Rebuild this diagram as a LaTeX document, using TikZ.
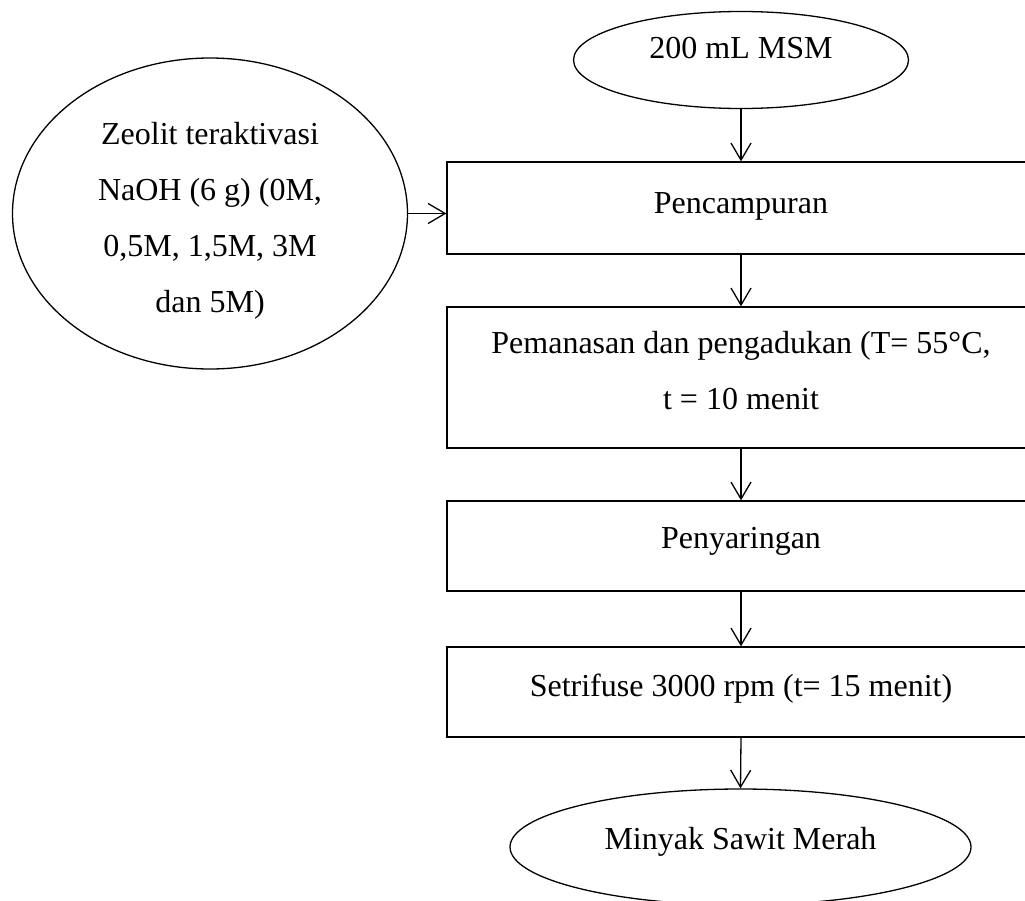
\documentclass[tikz,border=0pt]{standalone}
\usepackage{fontspec}
\setmainfont{Liberation Serif}
\usetikzlibrary{shapes.geometric,arrows.meta}
\newcommand{\lifted}[2]{\raisebox{#1}[0pt][0pt]{\begin{tabular}{@{}c@{}}#2\end{tabular}}}
\begin{document}
\begin{tikzpicture}[x=1pt,y=-1pt,
  every node/.style={font=\fontsize{32}{56}\selectfont, line width=1.3pt, inner sep=0pt},
  oval/.style={draw, ellipse},
  stepbox/.style={draw, rectangle, minimum width=588pt},
  flow/.style={draw, line width=1.3pt, -{Straight Barb[length=17pt,width=20pt,line width=1.3pt]}}]
\useasboundingbox (0,0) rectangle (1025,900);
\clip (0,0) rectangle (1025,900);
\node[oval, minimum width=335pt, minimum height=97pt] (msm) at (741,60) {\lifted{6.2pt}{200 mL MSM}};
\node[oval, minimum width=395pt, minimum height=311pt] (zeo) at (210,213.5)
  {\lifted{-9.8pt}{Zeolit teraktivasi\\NaOH (6 g) (0M,\\0,5M, 1,5M, 3M\\dan 5M)}};
\node[stepbox, minimum height=92pt] (b1) at (741,208) {\lifted{-0.8pt}{Pencampuran}};
\node[stepbox, minimum height=141pt] (b2) at (741,377.5)
  {\lifted{0.7pt}{Pemanasan dan pengadukan (T= 55°C,\\t = 10 menit}};
\node[stepbox, minimum height=90pt] (b3) at (741,546) {\lifted{2.2pt}{Penyaringan}};
\node[stepbox, minimum height=90pt] (b4) at (741,692) {\lifted{0.2pt}{Setrifuse 3000 rpm (t= 15 menit)}};
\node[oval, minimum width=461pt, minimum height=116pt] (out) at (740.5,847) {\lifted{2.2pt}{Minyak Sawit Merah}};
\draw[flow] (msm.south) -- (b1.north);
\draw[flow] (zeo.east) -- (zeo.east -| b1.west);
\draw[flow] (b1.south) -- (b2.north);
\draw[flow] (b2.south) -- (b3.north);
\draw[flow] (b3.south) -- (b4.north);
\draw[flow] (b4.south) -- (out.north);
\end{tikzpicture}
\end{document}
